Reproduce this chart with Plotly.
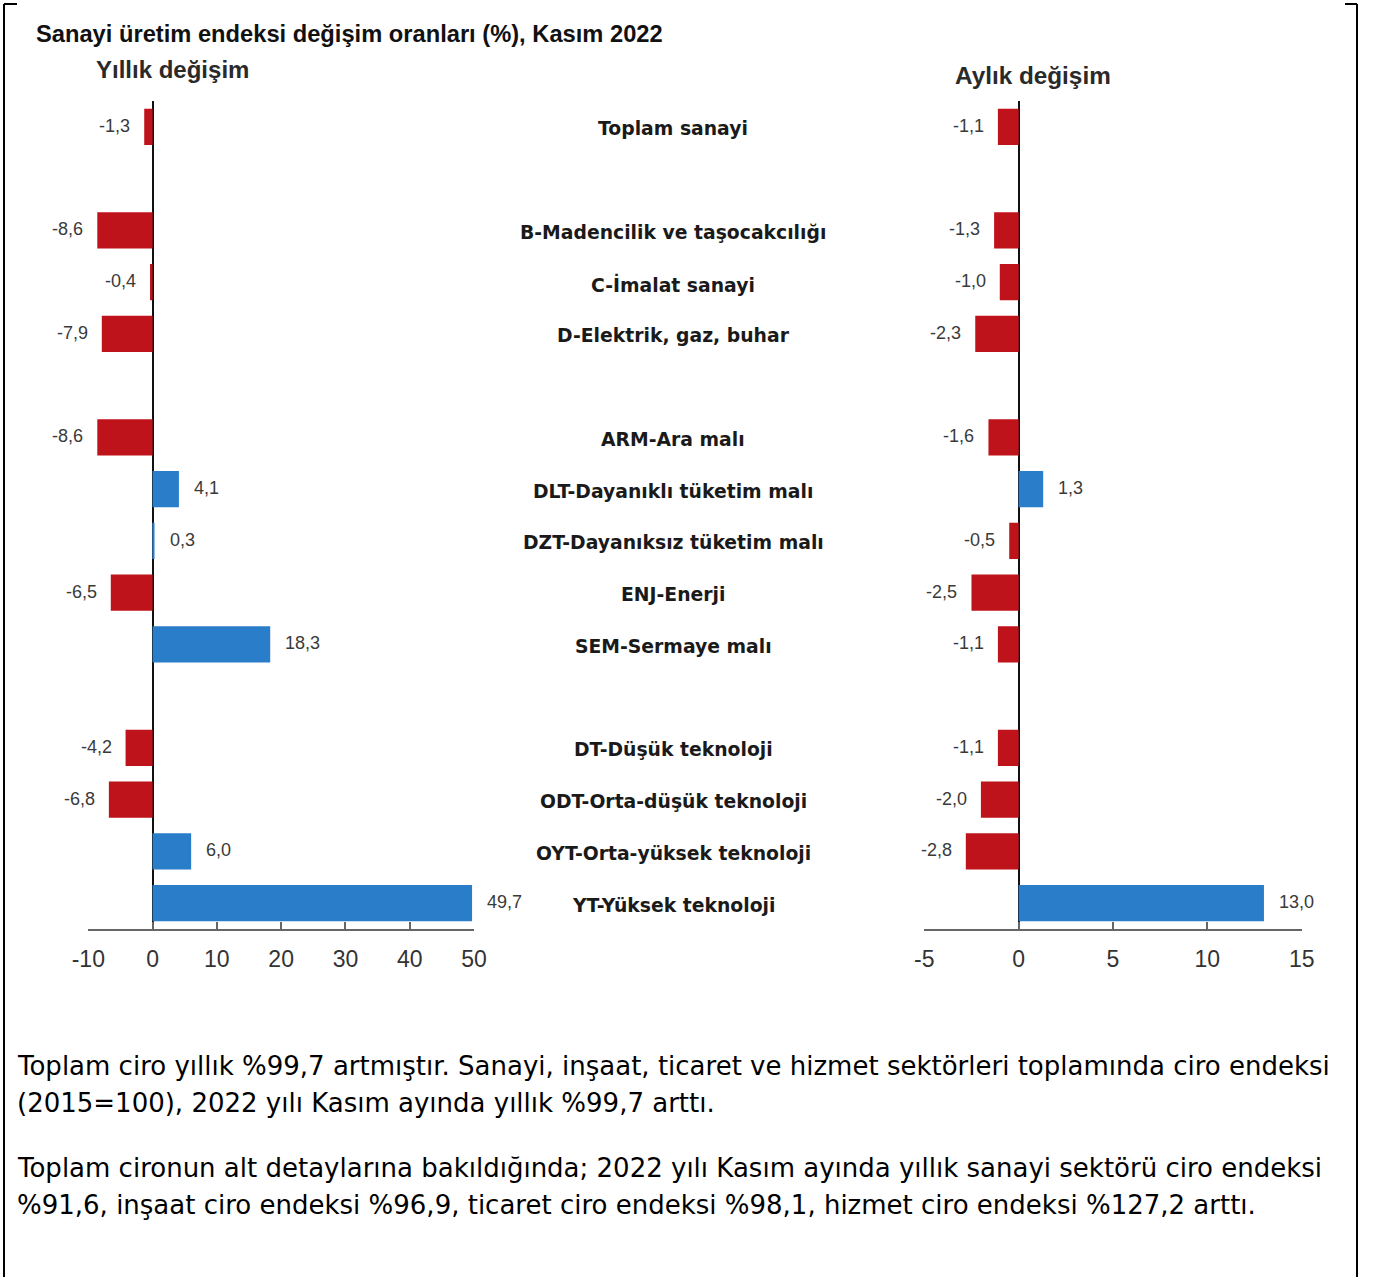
import plotly.graph_objects as go

# ---------------- data ----------------
groups = [
    ["Toplam sanayi"],
    ["B-Madencilik ve taşocakcılığı", "C-İmalat sanayi", "D-Elektrik, gaz, buhar"],
    ["ARM-Ara malı", "DLT-Dayanıklı tüketim malı", "DZT-Dayanıksız tüketim malı",
     "ENJ-Enerji", "SEM-Sermaye malı"],
    ["DT-Düşük teknoloji", "ODT-Orta-düşük teknoloji", "OYT-Orta-yüksek teknoloji",
     "YT-Yüksek teknoloji"],
]
yillik = [-1.3, -8.6, -0.4, -7.9, -8.6, 4.1, 0.3, -6.5, 18.3, -4.2, -6.8, 6.0, 49.7]
aylik = [-1.1, -1.3, -1.0, -2.3, -1.6, 1.3, -0.5, -2.5, -1.1, -1.1, -2.0, -2.8, 13.0]
left_ticks = [-10, 0, 10, 20, 30, 40, 50]
left_ticktext = ["-10", "0", "10", "20", "30", "40", "50"]
right_ticks = [-5, 0, 5, 10, 15]
right_ticktext = ["-5", "0", "5", "10", "15"]

title_text = "Sanayi üretim endeksi değişim oranları (%), Kasım 2022"
left_title = "Yıllık değişim"
right_title = "Aylık değişim"
para1 = ["Toplam ciro yıllık %99,7 artmıştır. Sanayi, inşaat, ticaret ve hizmet sektörleri toplamında ciro endeksi",
         "(2015=100), 2022 yılı Kasım ayında yıllık %99,7 arttı."]
para2 = ["Toplam cironun alt detaylarına bakıldığında; 2022 yılı Kasım ayında yıllık sanayi sektörü ciro endeksi",
         "%91,6, inşaat ciro endeksi %96,9, ticaret ciro endeksi %98,1, hizmet ciro endeksi %127,2 arttı."]

# slot positions with a blank slot between groups
categories, positions = [], []
slot = 0
for gi, g in enumerate(groups):
    if gi > 0:
        slot += 1
    for c in g:
        categories.append(c)
        positions.append(slot)
        slot += 1
n_slots = slot

RED = "#BE131B"
BLUE = "#2A7DC9"
W, H = 1373, 1277


def colors(vals):
    return [BLUE if v >= 0 else RED for v in vals]


def fmt(v):
    return f"{v:.1f}".replace(".", ",")


fig = go.Figure()
fig.add_trace(go.Bar(x=yillik, y=positions, orientation="h", width=0.7,
                     marker=dict(color=colors(yillik), line=dict(width=0)),
                     xaxis="x", yaxis="y", showlegend=False, hoverinfo="skip"))
fig.add_trace(go.Bar(x=aylik, y=positions, orientation="h", width=0.7,
                     marker=dict(color=colors(aylik), line=dict(width=0)),
                     xaxis="x2", yaxis="y2", showlegend=False, hoverinfo="skip"))

ann = []
lab_font = dict(family="Liberation Sans, Arial", size=18, color="#3a3a3a")
for vals, xr in ((yillik, "x"), (aylik, "x2")):
    for v, p in zip(vals, positions):
        ann.append(dict(x=v, y=p, xref=xr, yref="y" if xr == "x" else "y2",
                        text=fmt(v), showarrow=False, font=lab_font,
                        xanchor="left" if v >= 0 else "right",
                        xshift=13 if v >= 0 else -12, yshift=1))

for c, p in zip(categories, positions):
    ann.append(dict(x=673 / W, y=p, xref="paper", yref="y", text=f"<b>{c}</b>",
                    showarrow=False, xanchor="center", yshift=-2,
                    font=dict(family="DejaVu Sans", size=18.8, color="#1a1a1a")))

ann.append(dict(x=34 / W, y=1 - 34 / H, xref="paper", yref="paper", text=f"<b>{title_text}</b>",
                showarrow=False, xanchor="left", yanchor="middle",
                font=dict(family="Liberation Sans, Arial", size=23.7, color="#111")))
ann.append(dict(x=94 / W, y=1 - 70 / H, xref="paper", yref="paper", text=f"<b>{left_title}</b>",
                showarrow=False, xanchor="left", yanchor="middle",
                font=dict(family="Liberation Sans, Arial", size=24, color="#2a2a2a")))
ann.append(dict(x=953 / W, y=1 - 75 / H, xref="paper", yref="paper", text=f"<b>{right_title}</b>",
                showarrow=False, xanchor="left", yanchor="middle",
                font=dict(family="Liberation Sans, Arial", size=24.3, color="#2a2a2a")))

para_font = dict(family="DejaVu Sans", size=26, color="#000")
for lines, y0 in ((para1, 1066), (para2, 1168)):
    for i, ln in enumerate(lines):
        ann.append(dict(x=15 / W, y=1 - (y0 + i * 37) / H, xref="paper", yref="paper",
                        text=ln, showarrow=False, xanchor="left", yanchor="middle",
                        font=para_font))

y_top, y_bot = 1 - 101 / H, 1 - 929 / H
axis_common = dict(showgrid=False, zeroline=True, zerolinecolor="#111", zerolinewidth=1.5,
                   showline=True, linecolor="#666", linewidth=2, ticks="inside",
                   ticklen=7, tickwidth=2, tickcolor="#666", ticklabelstandoff=8,
                   automargin=False,
                   tickfont=dict(family="Liberation Sans, Arial", size=23, color="#333"))

yax = dict(range=[n_slots - 0.5, -0.5], showticklabels=False, showgrid=False,
           zeroline=False, showline=False, domain=[y_bot, y_top], automargin=False)

shapes = [
    dict(type="line", xref="paper", yref="paper", x0=4 / W, x1=4 / W, y0=0, y1=1 - 4 / H,
         line=dict(color="#000", width=2)),
    dict(type="line", xref="paper", yref="paper", x0=4 / W, x1=17 / W, y0=1 - 4 / H, y1=1 - 4 / H,
         line=dict(color="#000", width=2)),
    dict(type="line", xref="paper", yref="paper", x0=1357 / W, x1=1357 / W, y0=0, y1=1 - 4 / H,
         line=dict(color="#000", width=2)),
    dict(type="line", xref="paper", yref="paper", x0=1345 / W, x1=1357 / W, y0=1 - 4 / H, y1=1 - 4 / H,
         line=dict(color="#000", width=2)),
]

fig.update_layout(
    width=W, height=H, autosize=False, margin=dict(l=0, r=0, t=0, b=0, pad=0, autoexpand=False),
    paper_bgcolor="white", plot_bgcolor="rgba(0,0,0,0)",
    xaxis=dict(domain=[88.3 / W, 474 / W], range=[-10, 50], tickvals=left_ticks,
               ticktext=left_ticktext, anchor="y", **axis_common),
    xaxis2=dict(domain=[924.3 / W, 1301.7 / W], range=[-5, 15], tickvals=right_ticks,
                ticktext=right_ticktext, anchor="y2", **axis_common),
    yaxis=dict(yax, anchor="x"), yaxis2=dict(yax, anchor="x2"),
    annotations=ann, shapes=shapes,
)
fig.update_traces(cliponaxis=False)

fig.write_html("out.html", config={"responsive": False},
               default_width=f"{W}px", default_height=f"{H}px",
               post_script="document.body.style.margin='0';document.body.style.overflow='hidden';")
